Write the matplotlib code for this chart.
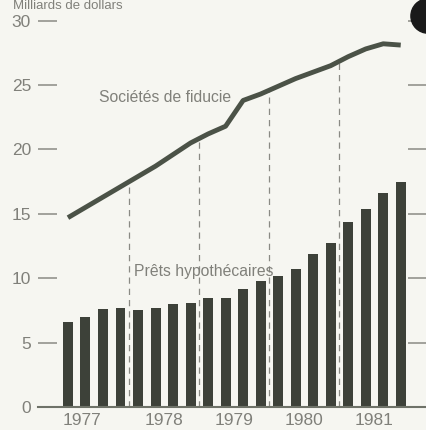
import numpy as np
import matplotlib.pyplot as plt
from matplotlib.patches import Circle

# trimestres 1977 T1 .. 1981 T4
years = ["1977", "1978", "1979", "1980", "1981"]
quarters = 20

# milliards de dollars
prets_hypo = [6.6, 7.0, 7.6, 7.7, 7.5, 7.7, 8.0, 8.1, 8.5, 8.5,
              9.2, 9.8, 10.2, 10.7, 11.9, 12.7, 14.4, 15.4, 16.6, 17.5]
societes_fiducie = [14.7, 15.5, 16.3, 17.1, 17.9, 18.7, 19.6, 20.5, 21.2, 21.8,
                    23.8, 24.3, 24.9, 25.5, 26.0, 26.5, 27.2, 27.8, 28.2, 28.1]
yticks = [0, 5, 10, 15, 20, 25, 30]

ink = "#3d4139"
txt = "#80807a"
bg = "#f6f6f1"


def main():
    fig = plt.figure(figsize=(4.27, 4.30), dpi=100, facecolor=bg)
    ax = fig.add_axes([38 / 427, 23 / 430, 389 / 427, 407 / 430])
    ax.set_facecolor(bg)

    x = np.arange(quarters)
    ax.bar(x, prets_hypo, width=0.57, color=ink, zorder=2)
    ax.plot(x, societes_fiducie, color="#4b5247", lw=3.5, zorder=3,
            solid_capstyle="butt")

    # separations entre les annees
    for b in [3.5, 7.5, 11.5, 15.5]:
        top = np.interp(b, x, societes_fiducie)
        ax.plot([b, b], [0, top], color="#8a8a84", lw=0.9,
                ls=(0, (5, 4)), zorder=1)

    ax.set_xlim(-1.71, 20.5)
    ax.set_ylim(0, 31.6)

    for s in ["top", "left", "right"]:
        ax.spines[s].set_visible(False)
    ax.spines["bottom"].set_color("#6e7268")
    ax.spines["bottom"].set_linewidth(1.5)

    ax.set_yticks(yticks)
    ax.set_yticklabels([str(v) for v in yticks], color=txt,
                       family="Liberation Sans", fontsize=12.5)
    ax.tick_params(axis="y", direction="in", length=14, width=1.1,
                   color="#8a8a84", pad=5, right=True)

    ax.set_xticks([0.8, 5.5, 9.5, 13.5, 17.5])
    ax.set_xticklabels(years, color=txt, family="Liberation Sans", fontsize=12.5)
    ax.tick_params(axis="x", length=0, pad=4)

    ax.text(1.75, 24.0, "Sociétés de fiducie", color=txt,
            family="Liberation Sans", fontsize=11.3, va="center")
    ax.text(3.75, 10.5, "Prêts hypothécaires", color=txt,
            family="Liberation Sans", fontsize=11.3, va="center")

    fig.text(13 / 427, 1.0, "Milliards de dollars", color=txt,
             family="Liberation Sans", fontsize=9.5, va="top")

    fig.patches.append(Circle((428 / 427, 1 - 16 / 430), 0.04,
                              transform=fig.transFigure, color="#1a1a1a"))

    fig.savefig("out.png", dpi=100, facecolor=bg)


if __name__ == '__main__':
    main()
